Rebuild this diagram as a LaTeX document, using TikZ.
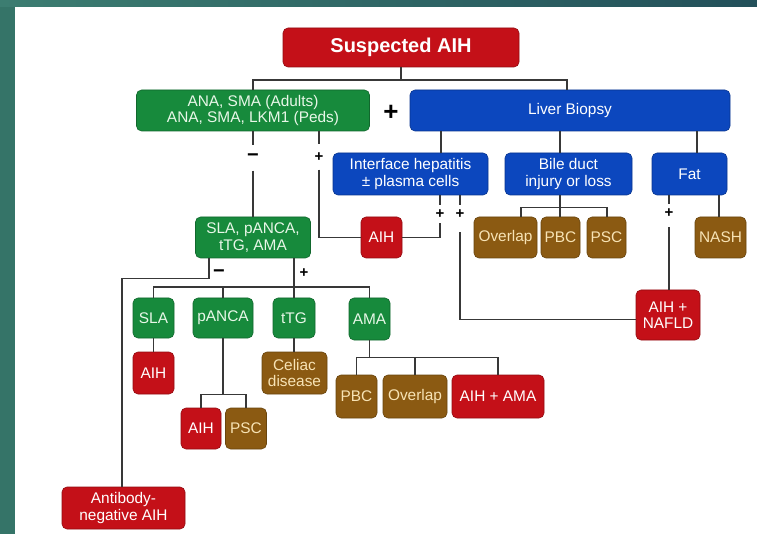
\documentclass[tikz,border=0pt]{standalone}
\usepackage{fontspec}
\setmainfont{Liberation Sans}
\definecolor{cred}{HTML}{C41018}
\definecolor{cgreen}{HTML}{178A3C}
\definecolor{cblue}{HTML}{0C47BE}
\definecolor{cbrown}{HTML}{8B5A12}
\definecolor{cline}{HTML}{383838}
\definecolor{cgtext}{HTML}{E8F7E8}
\definecolor{cntext}{HTML}{F7E3B5}
\definecolor{tealA}{HTML}{3C7D71}
\definecolor{tealB}{HTML}{23505A}
\definecolor{tealC}{HTML}{357468}
\begin{document}
\begin{tikzpicture}[x=1pt,y=-1pt,
  box/.style={rounded corners=5pt, inner sep=0pt, align=center, font=\fontsize{15.4}{16.5}\selectfont, line width=0.6pt},
  rbox/.style={box, fill=cred, draw=cred!75!black, text=white},
  gbox/.style={box, fill=cgreen, draw=cgreen!75!black, text=cgtext},
  bbox/.style={box, fill=cblue, draw=cblue!75!black, text=white},
  nbox/.style={box, fill=cbrown, draw=cbrown!75!black, text=cntext},
  conn/.style={draw=cline, line width=1.3pt},
  sz/.style 2 args={minimum width=#1, minimum height=#2},
  sign/.style={inner sep=0pt, font=\fontsize{15}{15}\selectfont\bfseries, text=black},
  minus/.style={sign, font=\fontsize{20}{20}\selectfont\bfseries},
]
% background
\useasboundingbox (0,0) rectangle (757,534);
\fill[tealC] (0,0) rectangle (757,534);
\shade[left color=tealA, right color=tealB] (0,0) rectangle (757,7);
\fill[white] (15,7) rectangle (757,534);

% nodes
\node[rbox, sz={236}{39}, font=\fontsize{20}{20}\selectfont\bfseries] (title) at (401,47.5) {Suspected AIH};
\node[gbox, sz={233}{41}] (ana) at (253,110.5) {ANA, SMA (Adults)\\ANA, SMA, LKM1 (Peds)};
\node[inner sep=0pt, font=\fontsize{26}{26}\selectfont\bfseries] (bigplus) at (391,113) {+};
\node[bbox, sz={320}{41}] (biopsy) at (570,110.5) {Liver Biopsy};
\node[bbox, sz={155}{42}] (iface) at (410.5,174) {Interface hepatitis\\± plasma cells};
\node[bbox, sz={127}{42}] (bile) at (568.5,174) {Bile duct\\injury or loss};
\node[bbox, sz={75}{42}] (fat) at (689.5,174) {Fat};
\node[rbox, sz={41}{41}] (aihA) at (381.5,237.5) {AIH};
\node[nbox, sz={63}{41}] (ovlA) at (505.5,237.5) {Overlap};
\node[nbox, sz={39}{41}] (pbcA) at (560.5,237.5) {PBC};
\node[nbox, sz={39}{41}] (pscA) at (606.5,237.5) {PSC};
\node[nbox, sz={51}{41}] (nash) at (720.5,237.5) {NASH};
\node[rbox, sz={64}{50}] (nafld) at (668,315) {AIH +\\NAFLD};
\node[gbox, sz={115}{41}] (abs) at (253,237.5) {SLA, pANCA,\\tTG, AMA};
\node[gbox, sz={41}{40}] (sla) at (153.5,318) {SLA};
\node[gbox, sz={60}{40}] (panca) at (223,318) {pANCA};
\node[gbox, sz={42}{40}] (ttg) at (294,318) {tTG};
\node[gbox, sz={41}{42}] (ama) at (369.5,319) {AMA};
\node[rbox, sz={41}{42}] (aihB) at (153.5,373) {AIH};
\node[nbox, sz={65}{42}] (celiac) at (294.5,373) {Celiac\\disease};
\node[rbox, sz={40}{41}] (aihC) at (201,428.5) {AIH};
\node[nbox, sz={41}{41}] (pscB) at (246,428.5) {PSC};
\node[nbox, sz={41}{43}] (pbcB) at (356.5,396.5) {PBC};
\node[nbox, sz={64}{43}] (ovlB) at (415,396.5) {Overlap};
\node[rbox, sz={92}{43}] (aihama) at (498,396.5) {AIH + AMA};
\node[rbox, sz={123}{42}] (neg) at (123.5,508) {Antibody-\\negative AIH};

% sign labels
\node[minus, minimum height=25] (mA) at (253,158) {−};
\node[sign, minimum height=25] (pA) at (319,157) {+};
\node[sign, minimum height=18] (pI1) at (440,214) {+};
\node[sign, minimum height=18] (pI2) at (460,214) {+};
\node[sign, minimum height=18] (pF) at (669,213) {+};
\node[minus] (mB) at (219,274) {−};
\node[sign] (pB) at (304,273) {+};

% helper coordinates
\coordinate (j0) at (401,80);
\coordinate (xI) at (441,0);
\coordinate (xB) at (560,0);
\coordinate (xF) at (697,0);
\coordinate (xN) at (719,0);
\coordinate (xO) at (521,0);
\coordinate (xP) at (607,0);
\coordinate (xM) at (209,0);
\coordinate (xNeg) at (122,0);
\coordinate (bus) at (0,287);

% connectors
\draw[conn] (title.south) -- (j0);
\draw[conn] (ana.north) |- (j0) -| ([xshift=-3pt]biopsy.north);
\draw[conn] (ana.south) -- (mA.north);
\draw[conn] (mA.south) -- (abs.north);
\draw[conn] (ana.south -| pA) -- (pA.north);
\draw[conn] (pA.south) |- (aihA.west);
\draw[conn] (biopsy.south -| xI) -- (iface.north -| xI);
\draw[conn] (biopsy.south -| xB) -- (bile.north -| xB);
\draw[conn] (biopsy.south -| xF) -- (fat.north -| xF);
\draw[conn] (iface.south -| pI1) -- (pI1.north);
\draw[conn] (pI1.south) |- (aihA.east);
\draw[conn] (iface.south -| pI2) -- (pI2.north);
\draw[conn] ([yshift=-9pt]pI2.south) |- ([yshift=-4.5pt]nafld.west);
\draw[conn] (bile.south -| xB) -- ++(0,12) coordinate (jB);
\draw[conn] (ovlA.north -| xO) |- (jB) -| (pscA.north -| xP);
\draw[conn] (jB) -- (pbcA.north -| jB);
\draw[conn] (fat.south -| pF) -- (pF.north);
\draw[conn] ([yshift=-5pt]pF.south) -- (nafld.north -| pF);
\draw[conn] (fat.south -| xN) -- (nash.north -| xN);

\draw[conn] (abs.south -| xM) -- ++(0,20) -| (neg.north -| xNeg);
\draw[conn] (abs.south -| ttg) -- (ttg.north);
\draw[conn] (sla.north) |- (bus -| ama) -- (ama.north);
\draw[conn] (panca.north) -- (panca.north |- bus);
\draw[conn] (sla.south) -- (aihB.north);
\draw[conn] (ttg.south) -- (celiac.north -| ttg);
\draw[conn] (panca.south) -- ++(0,56) coordinate (jP);
\draw[conn] (aihC.north) |- (jP) -| (pscB.north);
\draw[conn] (ama.south) -- ++(0,17) coordinate (jA);
\draw[conn] (pbcB.north) |- (jA) -| (aihama.north);
\draw[conn] (ovlB.north) -- (ovlB.north |- jA);
\end{tikzpicture}
\end{document}
